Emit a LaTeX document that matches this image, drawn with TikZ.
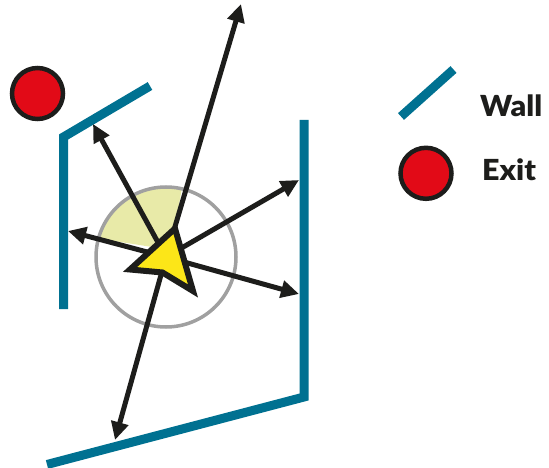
\documentclass[tikz,border=0pt]{standalone}
\usepackage{fontspec}
\setmainfont{Lato}
\newfontfamily\keyfont{Lato Black}
\usetikzlibrary{arrows.meta}
\definecolor{wallc}{RGB}{0,113,145}
\definecolor{exitc}{RGB}{226,10,23}
\definecolor{fovc}{RGB}{232,234,168}
\definecolor{agentc}{RGB}{252,230,24}
\definecolor{inkc}{RGB}{29,29,27}
\definecolor{ringc}{RGB}{160,160,160}
\tikzset{
  wallline/.style={draw=wallc,line width=9pt,line cap=butt,line join=miter},
  exitdot/.style={circle,draw=inkc,fill=exitc,line width=4.5pt,minimum size=51pt,inner sep=0pt},
  ray/.style={draw=inkc,line width=5pt,-{Triangle[length=18pt,width=17pt]}},
  legendtext/.style={font=\keyfont\fontsize{29}{30}\selectfont,text=inkc,anchor=base west,inner sep=0pt},
}
\begin{document}
\begin{tikzpicture}[x=1pt,y=-1pt]
\useasboundingbox (0,0) rectangle (549,468);
% field of view sector
\coordinate (o) at (166,257);
\coordinate (apex) at (171,250);
\begin{scope}
  \clip (o) circle (70);
  \fill[fovc] (apex) -- +(-80:200) -- +(-125:300) -- +(-171:200) -- cycle;
\end{scope}
\draw[ringc,line width=3.5pt] (o) circle (70);
% walls
\draw[wallline] (150,86) -- (63.5,137) -- (63.5,309);
\draw[wallline] (304,120) -- (304,397) -- (47,464.5);
% exit
\node[exitdot] (exit) at (37.5,93.5) {};
% rays
\coordinate (t1) at (241,4);
\coordinate (t2) at (93,124);
\coordinate (t3) at (68,231);
\coordinate (t4) at (299,180);
\coordinate (t5) at (299,294);
\coordinate (t6) at (115,440);
\foreach \t in {t1,t2,t3,t4,t5,t6} \draw[ray] (o) -- (\t);
% agent
\draw[fill=agentc,draw=inkc,line width=6pt,line join=miter]
  (130,269.5) -- (175,228.5) -- (193,291) -- (162.5,272.5) -- cycle;
% legend
\draw[wallline] (401,116.5) -- (453.5,69.5);
\node[legendtext,xscale=1.05] (walllbl) at (480,116.7) {Wall};
\node[exitdot] (exitkey) at (426,173.3) {};
\node[legendtext,xscale=1.05] (exitlbl) at (482,180) {Exit};
\end{tikzpicture}
\end{document}
